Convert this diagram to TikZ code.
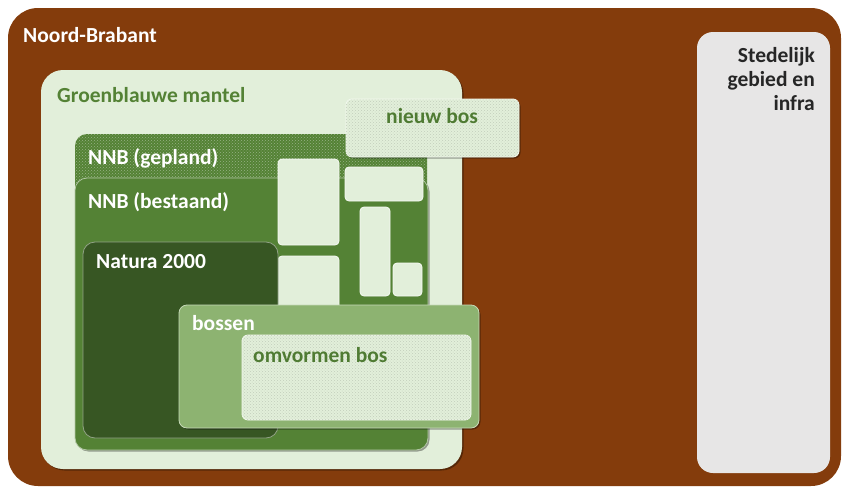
\documentclass[tikz,border=0pt]{standalone}
\usepackage{fontspec}
\setmainfont{Carlito}
\usetikzlibrary{patterns,shadows}
\definecolor{brownNB}{HTML}{843C0C}
\definecolor{mantel}{HTML}{E2EFDA}
\definecolor{nnb}{HTML}{548235}
\definecolor{natura}{HTML}{375623}
\definecolor{bossen}{HTML}{8DB371}
\definecolor{stad}{HTML}{E7E6E6}
\definecolor{txtgreen}{HTML}{4F7B33}
\tikzset{
  area/.style={rounded corners=#1},
  area/.default=12pt,
  lbl/.style={anchor=base west,inner sep=0pt,font=\fontsize{21.5}{25}\selectfont\bfseries},
  rlbl/.style={anchor=base east,inner sep=0pt,font=\fontsize{21.5}{25}\selectfont\bfseries,text=black!85},
  patch/.style={fill=mantel,draw=white!70!mantel,line width=0.8pt,rounded corners=4pt},
  dotted fill/.style={pattern=crosshatch dots,pattern color=#1},
  soft shadow/.style={drop shadow={shadow xshift=1.5pt,shadow yshift=-1.5pt,opacity=0.35,fill=black}},
}
\begin{document}
\begin{tikzpicture}[x=1pt,y=-1pt]
\useasboundingbox (0,0) rectangle (843,493);
\fill[white] (0,0) rectangle (843,493);
% Noord-Brabant
\path[area=30pt,fill=brownNB] (8,8) rectangle (841,486);
\node[lbl,text=white] (nblbl) at (23,42) {Noord-Brabant};
% Stedelijk gebied
\path[area=16pt,fill=stad] (697,32) rectangle (830,473);
\node[rlbl] (stad1) at (815,62) {Stedelijk};
\node[rlbl] (stad2) at (815,86) {gebied en};
\node[rlbl] (stad3) at (815,110) {infra};
% Groenblauwe mantel
\path[area=22pt,fill=mantel,soft shadow] (41,70) rectangle (462,469);
\node[lbl,text=nnb] (mantellbl) at (57,102) {Groenblauwe mantel};
% NNB gepland
\path[area=12pt,fill=nnb] (75,134) rectangle (427,230);
\path[area=12pt,dotted fill=white!40!nnb] (75,134) rectangle (427,230);
\node[lbl,text=white] (gepllbl) at (88,164) {NNB (gepland)};
% NNB bestaand
\path[area=12pt,fill=nnb,draw=white!55!nnb,line width=0.8pt,soft shadow] (75,178) rectangle (428,450);
\node[lbl,text=white] (bestlbl) at (88,208) {NNB (bestaand)};
% light patches
\path[patch] (278,159) rectangle (339,245);
\path[patch] (345,167) rectangle (423,201);
\path[patch] (360,207) rectangle (390,296);
\path[patch] (393,263) rectangle (422,296);
\path[patch] (278,256) rectangle (339,310);
% Natura 2000
\path[area=12pt,fill=natura,draw=white!45!natura,line width=0.8pt] (83,242) rectangle (278,438);
\node[lbl,text=white] (natlbl) at (96,268) {Natura 2000};
% bossen
\path[area=8pt,fill=bossen,draw=white!50!bossen,line width=0.8pt,soft shadow] (179,305) rectangle (479,428);
\node[lbl,text=white] (boslbl) at (192,330) {bossen};
% omvormen bos
\path[area=6pt,fill=mantel,draw=white!60!mantel,line width=0.8pt] (242,335) rectangle (471,420);
\path[area=6pt,dotted fill=black!14!mantel] (242,335) rectangle (471,420);
\node[lbl,text=txtgreen] (omvlbl) at (253,362) {omvormen bos};
% nieuw bos
\path[area=6pt,fill=mantel,draw=white!60!mantel,line width=0.8pt,soft shadow] (346,99) rectangle (519,157);
\path[area=6pt,dotted fill=black!14!mantel] (346,99) rectangle (519,157);
\node[lbl,text=txtgreen] (nieuwlbl) at (386,123) {nieuw bos};
\end{tikzpicture}
\end{document}
